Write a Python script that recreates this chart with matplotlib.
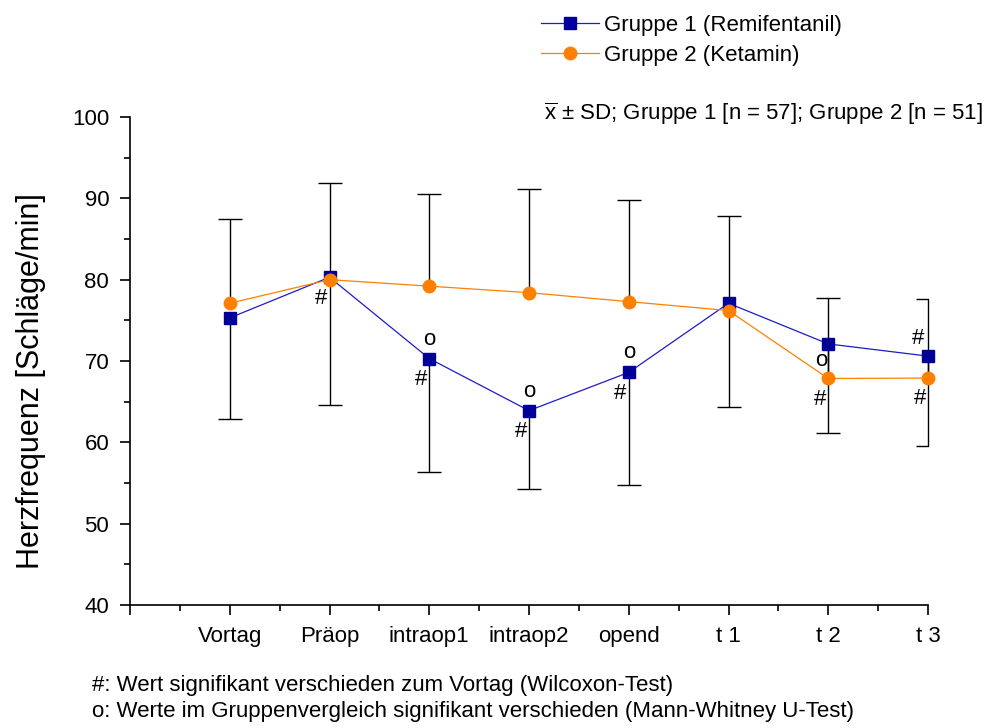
# !/usr/bin/python3
# coding: utf_8

""" Heart rate of both groups over time, mean +/- SD """

import matplotlib
matplotlib.use("Agg")
from matplotlib import pyplot as plt
from matplotlib.ticker import MultipleLocator

# time points
labels = ["Vortag", "Präop", "intraop1", "intraop2", "opend", "t 1", "t 2",
          "t 3"]

# Gruppe 1 (Remifentanil), SD drawn downwards
mean_g1 = [75.3, 80.3, 70.3, 63.9, 68.6, 77.1, 72.1, 70.6]
sd_g1 = [12.4, 15.7, 14.0, 9.65, 13.8, 12.7, 10.9, 11.1]

# Gruppe 2 (Ketamin), SD drawn upwards
mean_g2 = [77.1, 80.0, 79.2, 78.4, 77.3, 76.2, 67.85, 67.9]
sd_g2 = [10.3, 11.9, 11.3, 12.8, 12.45, 11.6, 9.95, 9.7]

# significance marks: (time index, group, symbol, placement)
marks = [
    (1, 1, "#", "below"),
    (2, 1, "o", "above"),
    (2, 1, "#", "below"),
    (3, 1, "o", "above"),
    (3, 1, "#", "below"),
    (4, 1, "o", "above"),
    (4, 1, "#", "below"),
    (6, 1, "o", "under"),
    (6, 2, "#", "below"),
    (7, 1, "#", "over"),
    (7, 2, "#", "below"),
]

plt.rcParams["font.family"] = ["Liberation Sans", "DejaVu Sans"]
plt.rcParams["mathtext.fontset"] = "custom"
plt.rcParams["mathtext.rm"] = "Liberation Sans"

BLUE_LINE = "#1c1cc8"
BLUE_MARK = "#000099"
ORANGE = "#ff8000"
FS = 16


def half_error_bar(axis, x_data, y_from, y_to):
    """ one-sided error bar: stem from the mean, cap at the end only """
    axis.vlines(x_data, y_from, y_to, colors="black", lw=1.0, zorder=2,
                clip_on=False)
    axis.plot(x_data, y_to, linestyle="none", marker="_", markersize=17,
              markeredgewidth=1.0, color="black", zorder=2)


fig = plt.figure(figsize=(9.88, 7.28), dpi=100)
ax = fig.add_axes([130 / 988, 123 / 728, 798 / 988, 488 / 728])

x = list(range(1, len(labels) + 1))

# lower half for group 1, upper half for group 2
half_error_bar(ax, x, mean_g1, [m - s for m, s in zip(mean_g1, sd_g1)])
half_error_bar(ax, x, mean_g2, [m + s for m, s in zip(mean_g2, sd_g2)])

line1, = ax.plot(x, mean_g1, "-", color=BLUE_LINE, lw=0.9, marker="s",
                 markersize=9, markerfacecolor=BLUE_MARK,
                 markeredgecolor=BLUE_MARK, clip_on=False, zorder=4,
                 label="Gruppe 1 (Remifentanil)")
line2, = ax.plot(x, mean_g2, "-", color=ORANGE, lw=0.9, marker="o",
                 markersize=9, markerfacecolor=ORANGE,
                 markeredgecolor=ORANGE, clip_on=False, zorder=5,
                 label="Gruppe 2 (Ketamin)")

offsets = {
    "above": (0, 14),
    "below": (-6, -15),
    "under": (-5, -12),
    "over": (-7, 13),
}
for idx, group, symbol, where in marks:
    y_val = mean_g1[idx] if group == 1 else mean_g2[idx]
    ax.annotate(symbol, (x[idx], y_val), xytext=offsets[where],
                textcoords="offset points", ha="center", va="center",
                fontsize=FS, annotation_clip=False)

ax.set_xlim(0, 8)
ax.set_ylim(40, 100)
ax.set_xticks(range(0, 9))
ax.set_xticklabels([""] + labels)
ax.xaxis.set_minor_locator(MultipleLocator(0.5))
ax.yaxis.set_major_locator(MultipleLocator(10))
ax.yaxis.set_minor_locator(MultipleLocator(5))
ax.tick_params(which="major", direction="out", length=7, width=1.2,
               labelsize=FS, pad=8)
ax.tick_params(which="minor", direction="out", length=4, width=1.2)
for side in ("top", "right"):
    ax.spines[side].set_visible(False)
for side in ("left", "bottom"):
    ax.spines[side].set_linewidth(1.2)

fig.text(31 / 988, 1 - 381 / 728, "Herzfrequenz [Schläge/min]",
         rotation=90, ha="center", va="center", fontsize=22)

fig.legend(handles=[line1, line2], loc="upper left",
           bbox_to_anchor=(532 / 988, 1 - 6 / 728), frameon=False,
           fontsize=FS, handlelength=2.6, handletextpad=0.25,
           labelspacing=0.4, borderaxespad=0)

fig.text(983 / 988, 1 - 114 / 728,
         r"$\overline{\mathrm{x}}$ ± SD; Gruppe 1 [n = 57]; Gruppe 2 [n = 51]",
         ha="right", va="center", fontsize=FS)
fig.text(92 / 988, 1 - 685 / 728,
         "#: Wert signifikant verschieden zum Vortag (Wilcoxon-Test)",
         ha="left", va="center", fontsize=FS)
fig.text(92 / 988, 1 - 712 / 728,
         "o: Werte im Gruppenvergleich signifikant verschieden "
         "(Mann-Whitney U-Test)",
         ha="left", va="center", fontsize=FS)

fig.savefig("out.png", dpi=100)
